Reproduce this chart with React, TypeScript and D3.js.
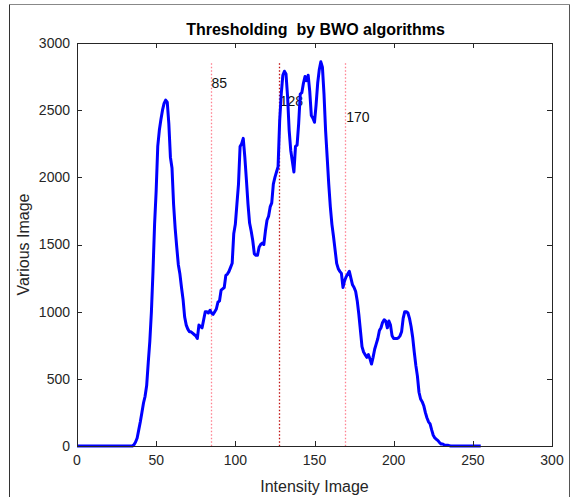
import React from "react";
import * as d3 from "d3";

// Histogram counts for intensity levels 0..255
const counts: number[] = [
  0, 0, 0, 0, 0, 0, 0, 0, 0, 0,
  0, 0, 0, 0, 0, 0, 0, 0, 0, 0,
  0, 0, 0, 0, 0, 0, 0, 0, 0, 0,
  0, 0, 0, 0, 0, 0, 10, 30, 60, 120,
  180, 250, 320, 370, 450, 620, 780, 1000, 1300, 1650,
  1900, 2230, 2350, 2430, 2500, 2550, 2575, 2560, 2400, 2150,
  2070, 1800, 1620, 1480, 1350, 1280, 1180, 1090, 960, 900,
  870, 850, 850, 840, 830, 820, 800, 900, 890, 880,
  940, 1000, 1000, 990, 1010, 990, 980, 1000, 1020, 1070,
  1080, 1160, 1170, 1180, 1270, 1280, 1300, 1330, 1360, 1580,
  1650, 1800, 1950, 2230, 2250, 2290, 2150, 1980, 1800, 1660,
  1600, 1530, 1430, 1420, 1420, 1480, 1500, 1510, 1500, 1600,
  1680, 1710, 1780, 1810, 1950, 2000, 2040, 2080, 2420, 2620,
  2760, 2790, 2770, 2600, 2350, 2200, 2120, 2040, 2230, 2240,
  2400, 2620, 2630, 2700, 2750, 2720, 2760, 2640, 2460, 2440,
  2410, 2540, 2700, 2800, 2860, 2820, 2620, 2350, 2150, 1950,
  1780, 1650, 1560, 1460, 1360, 1320, 1300, 1285, 1180, 1230,
  1260, 1280, 1300, 1250, 1200, 1180, 1150, 1080, 980, 860,
  740, 700, 680, 660, 680, 650, 610, 660, 720, 760,
  800, 860, 880, 920, 940, 930, 880, 930, 900, 820,
  800, 800, 800, 805, 820, 850, 950, 1000, 1000, 990,
  950, 890, 810, 700, 600, 520, 400, 350, 330, 300,
  250, 210, 180, 165, 120, 80, 60, 50, 40, 25,
  15, 15, 8, 5, 5, 3, 0, 0, 0, 0,
  0, 0, 0, 0, 0, 0, 0, 0, 0, 0,
  0, 0, 0, 0, 0, 0,
];

const thresholds: number[] = [85, 128, 170];
const thresholdLabelY: number[] = [2700, 2570, 2450];
const thresholdTop = 2850;

const xTicks: number[] = [0, 50, 100, 150, 200, 250, 300];
const yTicks: number[] = [0, 500, 1000, 1500, 2000, 2500, 3000];

const W = 574;
const H = 497;
const left = 77;
const right = 552;
const top = 43;
const bottom = 446;

const FONT = "'Liberation Sans', Arial, sans-serif";
const AXIS = "#262626";

export default function App() {
  const x = d3.scaleLinear().domain([0, 300]).range([left, right]);
  const y = d3.scaleLinear().domain([0, 3000]).range([bottom, top]);

  const line = d3
    .line<number>()
    .x((_, i) => x(i))
    .y((d) => y(d));

  const tickLen = 5;
  // snap thin rules to the pixel grid so they stay crisp
  const crisp = (v: number) => Math.round(v) + 0.5;

  return (
    <svg
      width={W}
      height={H}
      style={{ position: "absolute", left: 0, top: 0, background: "#fff" }}
    >
      <rect x={0} y={0} width={W} height={H} fill="#fff" />
      {/* outer figure frame */}
      <line x1={9.5} y1={4.5} x2={569.5} y2={4.5} stroke="#888" strokeWidth={1} />
      <line x1={9.5} y1={4.5} x2={9.5} y2={H} stroke="#333" strokeWidth={1} />
      <line x1={569.5} y1={4.5} x2={569.5} y2={H} stroke="#555" strokeWidth={1} />

      {/* threshold markers */}
      {thresholds.map((t, i) => (
        <g key={t}>
          <line
            x1={crisp(x(t)) - 1}
            x2={crisp(x(t)) - 1}
            y1={y(thresholdTop)}
            y2={y(0)}
            stroke={t === 128 ? "#c01010" : "#ff8090"}
            strokeWidth={1.3}
            strokeDasharray="1.5,2"
          />
          <text
            x={x(t)}
            y={y(thresholdLabelY[i])}
            dy="0.35em"
            fontFamily={FONT}
            fontSize={14}
            fill="#111"
          >
            {t}
          </text>
        </g>
      ))}

      {/* histogram curve */}
      <path
        d={line(counts) || ""}
        fill="none"
        stroke="#0000ff"
        strokeWidth={3}
        strokeLinejoin="round"
      />

      {/* axes box */}
      <rect
        x={left + 0.5}
        y={top + 0.5}
        width={right - left}
        height={bottom - top}
        fill="none"
        stroke={AXIS}
        strokeWidth={1}
      />
      {xTicks.map((t) => (
        <g key={"x" + t}>
          <line x1={crisp(x(t))} x2={crisp(x(t))} y1={bottom} y2={bottom - tickLen} stroke={AXIS} />
          <line x1={crisp(x(t))} x2={crisp(x(t))} y1={top} y2={top + tickLen} stroke={AXIS} />
          <text
            x={x(t)}
            y={bottom + 19}
            textAnchor="middle"
            fontFamily={FONT}
            fontSize={14}
            fill={AXIS}
          >
            {t}
          </text>
        </g>
      ))}
      {yTicks.map((t) => (
        <g key={"y" + t}>
          <line x1={left} x2={left + tickLen} y1={crisp(y(t))} y2={crisp(y(t))} stroke={AXIS} />
          <line x1={right} x2={right - tickLen} y1={crisp(y(t))} y2={crisp(y(t))} stroke={AXIS} />
          <text
            x={left - 7}
            y={y(t)}
            dy="0.35em"
            textAnchor="end"
            fontFamily={FONT}
            fontSize={14}
            fill={AXIS}
          >
            {t}
          </text>
        </g>
      ))}

      <text
        x={(left + right) / 2}
        y={492}
        textAnchor="middle"
        fontFamily={FONT}
        fontSize={16}
        fill={AXIS}
      >
        Intensity Image
      </text>
      <text
        transform={`translate(29, ${(top + bottom) / 2}) rotate(-90)`}
        textAnchor="middle"
        fontFamily={FONT}
        fontSize={16}
        fill={AXIS}
      >
        Various Image
      </text>
      <text
        x={(left + right) / 2 + 1}
        y={35}
        textAnchor="middle"
        fontFamily={FONT}
        fontSize={16}
        fontWeight="bold"
        fill="#000"
        style={{ whiteSpace: "pre" }}
      >
        Thresholding  by BWO algorithms
      </text>
    </svg>
  );
}
